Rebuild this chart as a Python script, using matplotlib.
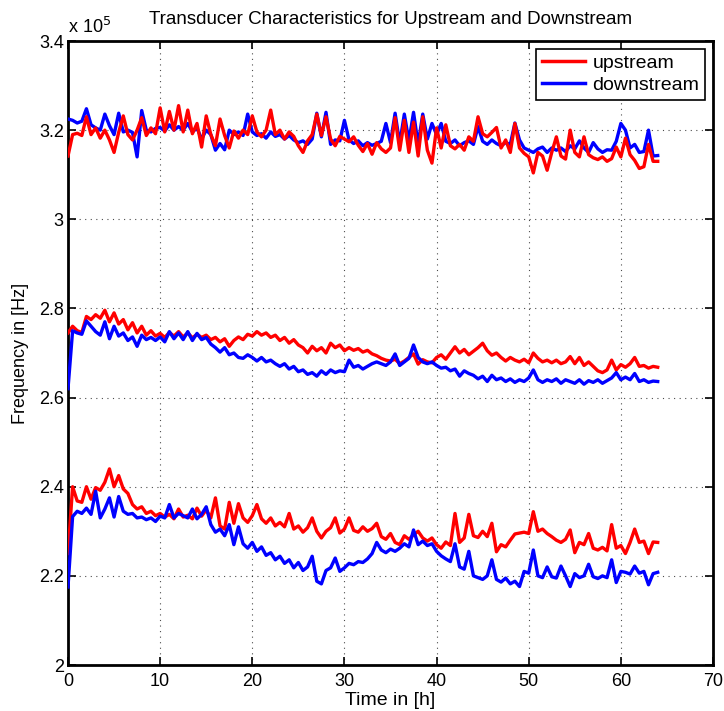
import numpy as np
import matplotlib
matplotlib.use("Agg")
import matplotlib.pyplot as plt
from matplotlib.ticker import FixedLocator, FuncFormatter
from matplotlib.lines import Line2D

plt.rcParams['font.family'] = ['Liberation Sans', 'DejaVu Sans']

# Time axis in hours (sample every 0.5 h)
time_h = np.arange(0, 64.01, 0.5)

# Frequencies in units of 1e5 Hz
up_high = [
    3.142, 3.190, 3.193, 3.188, 3.230, 3.190, 3.205, 3.182, 3.200, 3.178,
    3.150, 3.195, 3.232, 3.190, 3.178, 3.200, 3.228, 3.188, 3.205, 3.192,
    3.250, 3.196, 3.242, 3.200, 3.255, 3.196, 3.245, 3.192, 3.215, 3.162,
    3.232, 3.190, 3.165, 3.225, 3.188, 3.160, 3.198, 3.182, 3.200, 3.190,
    3.232, 3.196, 3.185, 3.200, 3.245, 3.190, 3.200, 3.180, 3.196, 3.186,
    3.165, 3.150, 3.176, 3.190, 3.236, 3.188, 3.230, 3.180, 3.165, 3.186,
    3.180, 3.174, 3.185, 3.166, 3.152, 3.170, 3.146, 3.172, 3.158, 3.150,
    3.160, 3.228, 3.155, 3.222, 3.150, 3.218, 3.142, 3.230, 3.155, 3.126,
    3.205, 3.160, 3.212, 3.165, 3.158, 3.168, 3.155, 3.185, 3.175, 3.230,
    3.192, 3.185, 3.195, 3.206, 3.160, 3.178, 3.150, 3.215, 3.160, 3.148,
    3.140, 3.104, 3.150, 3.142, 3.110, 3.150, 3.185, 3.142, 3.135, 3.200,
    3.150, 3.140, 3.185, 3.145, 3.138, 3.134, 3.140, 3.130, 3.136, 3.162,
    3.140, 3.182, 3.145, 3.132, 3.114, 3.118, 3.168, 3.130, 3.130,
]
down_high = [
    3.225, 3.222, 3.216, 3.220, 3.248, 3.212, 3.205, 3.200, 3.236, 3.210,
    3.190, 3.238, 3.196, 3.200, 3.195, 3.140, 3.244, 3.200, 3.196, 3.204,
    3.206, 3.198, 3.212, 3.200, 3.208, 3.200, 3.215, 3.196, 3.205, 3.180,
    3.200, 3.190, 3.155, 3.170, 3.156, 3.200, 3.190, 3.196, 3.188, 3.236,
    3.196, 3.188, 3.192, 3.182, 3.196, 3.186, 3.190, 3.180, 3.188, 3.178,
    3.172, 3.176, 3.168, 3.180, 3.238, 3.185, 3.240, 3.168, 3.178, 3.176,
    3.222, 3.178, 3.170, 3.176, 3.165, 3.172, 3.166, 3.170, 3.175, 3.215,
    3.172, 3.238, 3.170, 3.236, 3.175, 3.240, 3.168, 3.236, 3.180, 3.215,
    3.190, 3.215, 3.175, 3.170, 3.178, 3.165, 3.172, 3.176, 3.168, 3.208,
    3.175, 3.168, 3.178, 3.170, 3.165, 3.172, 3.168, 3.216, 3.178, 3.160,
    3.155, 3.150, 3.158, 3.162, 3.150, 3.160, 3.155, 3.160, 3.152, 3.165,
    3.158, 3.176, 3.160, 3.150, 3.172, 3.158, 3.150, 3.156, 3.155, 3.175,
    3.215, 3.200, 3.160, 3.168, 3.150, 3.152, 3.200, 3.142, 3.143,
]
up_mid = [
    2.745, 2.760, 2.750, 2.746, 2.782, 2.775, 2.786, 2.778, 2.796, 2.770,
    2.790, 2.765, 2.775, 2.752, 2.768, 2.745, 2.760, 2.740, 2.750, 2.738,
    2.744, 2.735, 2.746, 2.738, 2.748, 2.736, 2.745, 2.734, 2.742, 2.735,
    2.740, 2.730, 2.735, 2.725, 2.732, 2.715, 2.728, 2.736, 2.730, 2.742,
    2.738, 2.748, 2.740, 2.745, 2.735, 2.740, 2.728, 2.735, 2.722, 2.730,
    2.718, 2.712, 2.700, 2.715, 2.705, 2.712, 2.700, 2.722, 2.712, 2.718,
    2.705, 2.712, 2.706, 2.710, 2.702, 2.706, 2.698, 2.694, 2.688, 2.684,
    2.682, 2.686, 2.676, 2.682, 2.690, 2.698, 2.675, 2.685, 2.680, 2.678,
    2.690, 2.696, 2.686, 2.700, 2.714, 2.700, 2.708, 2.696, 2.704, 2.712,
    2.722, 2.705, 2.695, 2.700, 2.690, 2.682, 2.690, 2.684, 2.680, 2.686,
    2.678, 2.700, 2.688, 2.680, 2.684, 2.678, 2.684, 2.676, 2.680, 2.692,
    2.676, 2.690, 2.672, 2.680, 2.670, 2.660, 2.656, 2.662, 2.684, 2.662,
    2.674, 2.668, 2.676, 2.690, 2.670, 2.672, 2.666, 2.670, 2.668,
]
down_mid = [
    2.620, 2.750, 2.745, 2.742, 2.772, 2.760, 2.748, 2.740, 2.770, 2.732,
    2.760, 2.738, 2.745, 2.728, 2.736, 2.715, 2.740, 2.730, 2.735, 2.728,
    2.736, 2.725, 2.748, 2.732, 2.745, 2.730, 2.748, 2.728, 2.744, 2.730,
    2.735, 2.720, 2.712, 2.702, 2.712, 2.696, 2.700, 2.690, 2.688, 2.696,
    2.690, 2.682, 2.690, 2.680, 2.684, 2.676, 2.670, 2.676, 2.664, 2.670,
    2.658, 2.662, 2.652, 2.656, 2.648, 2.660, 2.652, 2.662, 2.656, 2.660,
    2.658, 2.684, 2.668, 2.672, 2.664, 2.670, 2.676, 2.680, 2.676, 2.672,
    2.680, 2.698, 2.672, 2.680, 2.688, 2.718, 2.690, 2.680, 2.676, 2.680,
    2.672, 2.666, 2.668, 2.660, 2.664, 2.648, 2.660, 2.654, 2.650, 2.642,
    2.648, 2.636, 2.650, 2.640, 2.644, 2.636, 2.642, 2.634, 2.640, 2.636,
    2.644, 2.662, 2.640, 2.634, 2.640, 2.636, 2.642, 2.632, 2.640, 2.636,
    2.632, 2.640, 2.630, 2.638, 2.634, 2.640, 2.632, 2.638, 2.644, 2.656,
    2.640, 2.646, 2.640, 2.654, 2.636, 2.640, 2.634, 2.637, 2.636,
]
up_low = [
    2.250, 2.400, 2.368, 2.365, 2.400, 2.372, 2.398, 2.392, 2.410, 2.440,
    2.400, 2.425, 2.395, 2.385, 2.360, 2.350, 2.355, 2.340, 2.345, 2.335,
    2.340, 2.332, 2.338, 2.328, 2.350, 2.332, 2.336, 2.328, 2.352, 2.334,
    2.348, 2.330, 2.375, 2.312, 2.305, 2.365, 2.318, 2.362, 2.330, 2.320,
    2.335, 2.360, 2.328, 2.318, 2.330, 2.312, 2.320, 2.310, 2.340, 2.305,
    2.312, 2.298, 2.308, 2.330, 2.300, 2.285, 2.300, 2.308, 2.330, 2.296,
    2.305, 2.330, 2.302, 2.298, 2.310, 2.300, 2.306, 2.318, 2.288, 2.282,
    2.295, 2.275, 2.270, 2.290, 2.282, 2.292, 2.300, 2.285, 2.278, 2.285,
    2.270, 2.262, 2.276, 2.268, 2.340, 2.275, 2.285, 2.338, 2.290, 2.286,
    2.300, 2.288, 2.318, 2.254, 2.270, 2.265, 2.280, 2.294, 2.296, 2.298,
    2.295, 2.344, 2.300, 2.305, 2.295, 2.288, 2.280, 2.275, 2.282, 2.303,
    2.252, 2.275, 2.270, 2.295, 2.262, 2.258, 2.264, 2.256, 2.315, 2.262,
    2.268, 2.250, 2.275, 2.305, 2.275, 2.278, 2.250, 2.276, 2.275,
]
down_low = [
    2.175, 2.333, 2.345, 2.340, 2.352, 2.338, 2.390, 2.330, 2.350, 2.375,
    2.332, 2.378, 2.345, 2.338, 2.340, 2.330, 2.332, 2.326, 2.330, 2.322,
    2.334, 2.330, 2.360, 2.330, 2.340, 2.335, 2.330, 2.350, 2.328, 2.338,
    2.355, 2.315, 2.298, 2.305, 2.290, 2.315, 2.270, 2.310, 2.272, 2.262,
    2.275, 2.255, 2.265, 2.246, 2.252, 2.236, 2.244, 2.228, 2.236, 2.218,
    2.230, 2.212, 2.220, 2.244, 2.188, 2.182, 2.212, 2.218, 2.240, 2.210,
    2.218, 2.228, 2.225, 2.232, 2.230, 2.238, 2.250, 2.275, 2.258, 2.252,
    2.260, 2.255, 2.262, 2.272, 2.265, 2.303, 2.270, 2.278, 2.268, 2.272,
    2.255, 2.245, 2.238, 2.232, 2.272, 2.220, 2.215, 2.255, 2.200, 2.196,
    2.192, 2.200, 2.236, 2.192, 2.186, 2.195, 2.182, 2.188, 2.176, 2.210,
    2.206, 2.258, 2.200, 2.196, 2.220, 2.198, 2.195, 2.222, 2.200, 2.176,
    2.205, 2.196, 2.200, 2.226, 2.198, 2.194, 2.200, 2.196, 2.236, 2.185,
    2.210, 2.208, 2.204, 2.222, 2.206, 2.210, 2.180, 2.205, 2.208,
]

x_ticks = [0, 10, 20, 30, 40, 50, 60, 70]
y_ticks = [2.0, 2.2, 2.4, 2.6, 2.8, 3.0, 3.2, 3.4]

RED = '#ff0000'
BLUE = '#0000ff'
LW = 2.4

fig = plt.figure(figsize=(7.24, 7.11), dpi=100)
ax = fig.add_axes([68 / 724, 46 / 711, 645 / 724, 624 / 711])

# upper transducer pair: red drawn over blue
ax.plot(time_h, down_high, color=BLUE, lw=LW, zorder=3)
ax.plot(time_h, up_high, color=RED, lw=LW, zorder=4)
# middle and lower pairs
ax.plot(time_h, up_mid, color=RED, lw=LW, zorder=3)
ax.plot(time_h, down_mid, color=BLUE, lw=LW, zorder=4)
ax.plot(time_h, up_low, color=RED, lw=LW, zorder=3)
ax.plot(time_h, down_low, color=BLUE, lw=LW, zorder=4)

ax.set_xlim(0, 70)
ax.set_ylim(2.0, 3.4)
ax.xaxis.set_major_locator(FixedLocator(x_ticks))
ax.yaxis.set_major_locator(FixedLocator(y_ticks))
ax.yaxis.set_major_formatter(FuncFormatter(lambda v, p: f'{v:g}'))

ax.grid(True, color='black', linestyle=(0, (1, 4)), linewidth=0.8, alpha=0.7)
ax.set_axisbelow(True)
ax.tick_params(direction='in', length=6, width=1.2, top=True, right=True,
               labelsize=13, colors='black')
ax.tick_params(axis='x', pad=6)
ax.tick_params(axis='y', pad=3)
for sp in ax.spines.values():
    sp.set_linewidth(2.0)
    sp.set_color('black')

ax.set_xlabel('Time in [h]', fontsize=14, labelpad=1)
ax.set_ylabel('Frequency in [Hz]', fontsize=13, labelpad=7)
ax.set_title('Transducer Characteristics for Upstream and Downstream',
             fontsize=13.5, pad=12)
ax.text(0.0, 1.006, r'x 10$^{5}$', transform=ax.transAxes, fontsize=13,
        ha='left', va='bottom')

handles = [Line2D([], [], color=RED, lw=2.5), Line2D([], [], color=BLUE, lw=2.5)]
leg = ax.legend(handles, ['upstream', 'downstream'], loc='upper right',
                fontsize=14, frameon=True, fancybox=False, edgecolor='black',
                framealpha=1, borderaxespad=0.4, handlelength=2.2,
                handletextpad=0.4, borderpad=0.3, labelspacing=0.2)
leg.get_frame().set_linewidth(1.2)

fig.savefig('out.png', dpi=100, facecolor='white')
